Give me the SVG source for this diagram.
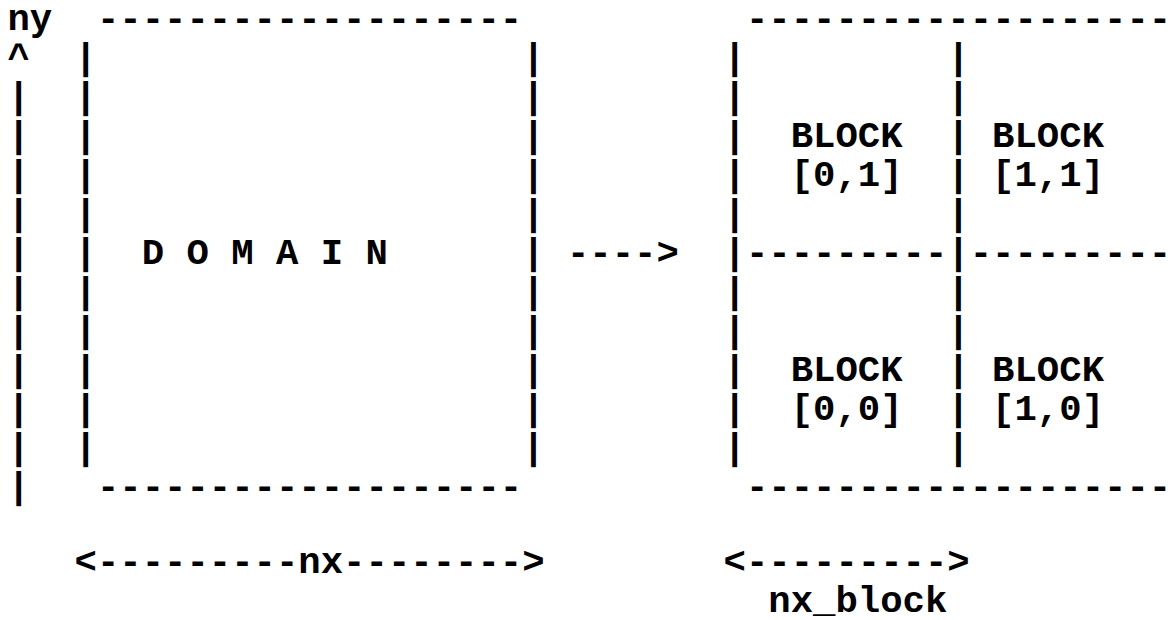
<svg xmlns="http://www.w3.org/2000/svg" width="1171" height="620" viewBox="0 0 1171 620">
<style>
.t{font-family:"Liberation Mono","DejaVu Sans Mono",monospace;font-weight:bold;font-size:37.3px;fill:#000;white-space:pre}
</style>
<rect width="1171" height="620" fill="#fff"/>
<g id="axis-y">
<text class="t" x="7.4" y="30">ny</text>
<text class="t" x="7.4" y="69">^</text>
<text class="t" x="7.4 7.4 7.4 7.4 7.4 7.4 7.4 7.4 7.4 7.4 7.4" y="108 147 186 225 264 303 342 381 420 459 498">|||||||||||</text>
</g>
<g id="domain">
<text class="t" x="96.92" y="30">-------------------</text>
<text class="t" x="74.54 74.54 74.54 74.54 74.54 74.54 74.54 74.54 74.54 74.54 74.54" y="69 108 147 186 225 264 303 342 381 420 459">|||||||||||</text>
<text class="t" x="522.14 522.14 522.14 522.14 522.14 522.14 522.14 522.14 522.14 522.14 522.14" y="69 108 147 186 225 264 303 342 381 420 459">|||||||||||</text>
<text class="t" x="96.92" y="498">-------------------</text>
<text class="t" x="141.68" y="264">D O M A I N</text>
</g>
<g id="blocks">
<text class="t" x="745.94" y="30">-------------------</text>
<text class="t" x="723.56 723.56 723.56 723.56 723.56 723.56 723.56 723.56 723.56 723.56 723.56" y="69 108 147 186 225 264 303 342 381 420 459">|||||||||||</text>
<text class="t" x="947.36 947.36 947.36 947.36 947.36 947.36 947.36 947.36 947.36 947.36 947.36" y="69 108 147 186 225 264 303 342 381 420 459">|||||||||||</text>
<text class="t" x="745.94" y="264">---------</text>
<text class="t" x="969.74" y="264">---------</text>
<text class="t" x="745.94" y="498">-------------------</text>
</g>
<g id="block-0-1"><text class="t" x="790.7" y="147">BLOCK</text><text class="t" x="790.7" y="186">[0,1]</text></g>
<g id="block-1-1"><text class="t" x="992.12" y="147">BLOCK</text><text class="t" x="992.12" y="186">[1,1]</text></g>
<g id="block-0-0"><text class="t" x="790.7" y="381">BLOCK</text><text class="t" x="790.7" y="420">[0,0]</text></g>
<g id="block-1-0"><text class="t" x="992.12" y="381">BLOCK</text><text class="t" x="992.12" y="420">[1,0]</text></g>
<g id="connectors">
<text class="t" x="566.9" y="264">----&gt;</text>
<text class="t" x="74.54" y="573">&lt;---------nx--------&gt;</text>
<text class="t" x="723.56" y="573">&lt;---------&gt;</text>
</g>
<g id="label-nx-block">
<text class="t" x="768.32" y="612">nx_block</text>
</g>
</svg>
